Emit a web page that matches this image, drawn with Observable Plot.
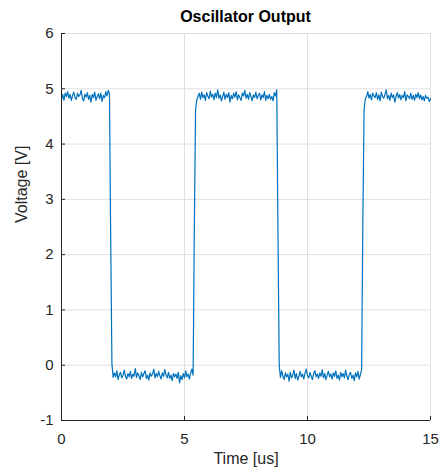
<!DOCTYPE html>
<html>
<head>
<meta charset="utf-8">
<script src="https://cdn.jsdelivr.net/npm/d3@7"></script>
<script src="https://cdn.jsdelivr.net/npm/@observablehq/plot@0.6"></script>
<style>
  html, body { margin: 0; padding: 0; background: #fff; }
  #title { width: 441px; height: 26px; box-sizing: border-box; padding-top: 9px; padding-left: 50px;
    text-align: center; font: bold 16px "Liberation Sans", Arial, sans-serif; line-height: 16px; color: #000; }
  #chart svg { display: block; }
</style>
</head>
<body>
<div id="title">Oscillator Output</div>
<div id="chart"></div>
<script>
const titleText = "Oscillator Output";
const xLabel = "Time [us]";
const yLabel = "Voltage [V]";
const xTicks = [0, 5, 10, 15];
const yTicks = [-1, 0, 1, 2, 3, 4, 5, 6];

// sample times (us)
const time = [
  0,0.05,0.1,0.15,0.2,0.25,0.3,0.35,0.4,0.45,0.5,0.55,0.6,0.65,0.7,0.75,0.8,0.85,0.9,0.95,
  1,1.05,1.1,1.15,1.2,1.25,1.3,1.35,1.4,1.45,1.5,1.55,1.6,1.65,1.7,1.75,1.8,1.85,1.9,1.95,
  2,2.05,2.1,2.15,2.2,2.25,2.3,2.35,2.4,2.45,2.5,2.55,2.6,2.65,2.7,2.75,2.8,2.85,2.9,2.95,
  3,3.05,3.1,3.15,3.2,3.25,3.3,3.35,3.4,3.45,3.5,3.55,3.6,3.65,3.7,3.75,3.8,3.85,3.9,3.95,
  4,4.05,4.1,4.15,4.2,4.25,4.3,4.35,4.4,4.45,4.5,4.55,4.6,4.65,4.7,4.75,4.8,4.85,4.9,4.95,
  5,5.05,5.1,5.15,5.2,5.25,5.3,5.35,5.4,5.45,5.5,5.55,5.6,5.65,5.7,5.75,5.8,5.85,5.9,5.95,
  6,6.05,6.1,6.15,6.2,6.25,6.3,6.35,6.4,6.45,6.5,6.55,6.6,6.65,6.7,6.75,6.8,6.85,6.9,6.95,
  7,7.05,7.1,7.15,7.2,7.25,7.3,7.35,7.4,7.45,7.5,7.55,7.6,7.65,7.7,7.75,7.8,7.85,7.9,7.95,
  8,8.05,8.1,8.15,8.2,8.25,8.3,8.35,8.4,8.45,8.5,8.55,8.6,8.65,8.7,8.75,8.8,8.85,8.9,8.95,
  9,9.05,9.1,9.15,9.2,9.25,9.3,9.35,9.4,9.45,9.5,9.55,9.6,9.65,9.7,9.75,9.8,9.85,9.9,9.95,
  10,10.05,10.1,10.15,10.2,10.25,10.3,10.35,10.4,10.45,10.5,10.55,10.6,10.65,10.7,10.75,10.8,10.85,10.9,10.95,
  11,11.05,11.1,11.15,11.2,11.25,11.3,11.35,11.4,11.45,11.5,11.55,11.6,11.65,11.7,11.75,11.8,11.85,11.9,11.95,
  12,12.05,12.1,12.15,12.2,12.25,12.3,12.35,12.4,12.45,12.5,12.55,12.6,12.65,12.7,12.75,12.8,12.85,12.9,12.95,
  13,13.05,13.1,13.15,13.2,13.25,13.3,13.35,13.4,13.45,13.5,13.55,13.6,13.65,13.7,13.75,13.8,13.85,13.9,13.95,
  14,14.05,14.1,14.15,14.2,14.25,14.3,14.35,14.4,14.45,14.5,14.55,14.6,14.65,14.7,14.75,14.8,14.85,14.9,14.95,
  15
];

// voltage readings (V)
const voltage = [
  // high 0 .. 1.95
  4.80,4.90,4.79,4.92,4.86,4.95,4.83,4.90,4.79,4.88,
  4.94,4.84,4.81,4.92,4.86,4.89,4.97,4.83,4.78,4.90,
  4.85,4.93,4.81,4.88,4.76,4.90,4.84,4.94,4.79,4.86,
  4.91,4.82,4.92,4.77,4.88,4.84,4.95,4.87,4.97,4.92,
  // falling edge
  2.3,0.02,-0.22,
  // low 2.15 .. 5.35
  -0.14,-0.21,-0.10,-0.26,-0.17,-0.13,-0.23,-0.18,-0.09,-0.20,
  -0.25,-0.15,-0.21,-0.11,-0.24,-0.16,-0.20,-0.06,-0.22,-0.14,
  -0.19,-0.26,-0.13,-0.21,-0.15,-0.10,-0.24,-0.18,-0.27,-0.14,
  -0.20,-0.16,-0.07,-0.23,-0.15,-0.21,-0.11,-0.19,-0.25,-0.14,
  -0.20,-0.08,-0.17,-0.23,-0.13,-0.24,-0.18,-0.28,-0.15,-0.21,
  -0.16,-0.24,-0.13,-0.32,-0.19,-0.26,-0.15,-0.23,-0.10,-0.21,
  -0.16,-0.25,-0.14,-0.07,-0.18,
  // rising edge
  2.5,4.62,4.80,
  // high 5.55 .. 8.75
  4.86,4.92,4.81,4.94,4.84,4.89,4.79,4.93,4.87,4.82,
  4.96,4.85,4.90,4.80,4.92,4.84,4.98,4.83,4.89,4.78,
  4.86,4.94,4.81,4.90,4.84,4.93,4.76,4.88,4.82,4.92,
  4.85,4.95,4.80,4.89,4.84,4.79,4.92,4.87,4.97,4.83,
  4.90,4.81,4.93,4.86,4.78,4.89,4.84,4.94,4.82,4.88,
  4.92,4.80,4.89,4.84,4.95,4.79,4.88,4.82,4.90,4.81,
  4.86,4.78,4.93,4.87,4.98,
  // falling edge
  2.4,0.0,-0.22,
  // low 8.95 .. 12.2
  -0.10,-0.20,-0.26,-0.14,-0.21,-0.16,-0.29,-0.13,-0.23,-0.18,
  -0.09,-0.24,-0.15,-0.27,-0.20,-0.11,-0.21,-0.16,-0.25,-0.14,
  -0.07,-0.19,-0.23,-0.13,-0.20,-0.26,-0.15,-0.10,-0.21,-0.16,
  -0.24,-0.14,-0.20,-0.08,-0.23,-0.15,-0.26,-0.18,-0.11,-0.21,
  -0.16,-0.25,-0.14,-0.20,-0.10,-0.24,-0.18,-0.27,-0.13,-0.21,
  -0.15,-0.23,-0.09,-0.20,-0.26,-0.16,-0.13,-0.24,-0.18,-0.28,
  -0.14,-0.21,-0.11,-0.25,-0.17,-0.08,
  // rising edge
  2.6,4.62,4.82,
  // high 12.4 .. 15
  4.86,4.95,4.83,4.90,4.80,4.92,4.87,4.84,4.93,4.81,
  4.89,4.78,4.94,4.86,4.83,4.90,4.98,4.82,4.88,4.79,
  4.92,4.84,4.89,4.76,4.86,4.93,4.83,4.90,4.80,4.88,
  4.84,4.95,4.78,4.89,4.86,4.82,4.92,4.81,4.88,4.79,
  4.90,4.84,4.93,4.82,4.89,4.80,4.86,4.78,4.88,4.83,
  4.85,4.77,4.82
];

const data = time.map((t, i) => ({t, v: voltage[i]}));

const W = 441, H = 449;
const mL = 61, mR = 11, mT = 7, mB = 55;
const innerW = W - mL - mR, innerH = H - mT - mB;
const axisColor = "#262626";
const gridColor = "#e0e0e0";
const font = '"Liberation Sans", Arial, sans-serif';

document.getElementById("title").textContent = titleText;

const chart = Plot.plot({
  width: W, height: H,
  marginLeft: mL, marginRight: mR, marginTop: mT, marginBottom: mB,
  style: {fontFamily: font, background: "#fff", overflow: "visible"},
  x: {domain: [0, 15], ticks: xTicks},
  y: {domain: [-1, 6], ticks: yTicks},
  marks: [
    Plot.gridX(xTicks, {stroke: gridColor, strokeOpacity: 1}),
    Plot.gridY(yTicks, {stroke: gridColor, strokeOpacity: 1}),
    Plot.line(data, {x: "t", y: "v", stroke: "#0072BD", strokeWidth: 1.2}),
    Plot.ruleX([0], {stroke: axisColor, strokeWidth: 1}),
    Plot.ruleY([-1], {stroke: axisColor, strokeWidth: 1}),
    Plot.tickX(xTicks, {x: d => d, stroke: axisColor, insetTop: innerH - 4}),
    Plot.tickY(yTicks, {y: d => d, stroke: axisColor, insetRight: innerW - 4}),
    Plot.axisX(xTicks, {tickSize: 0, tickPadding: 13, fontSize: 15, fill: axisColor, label: null, tickFormat: d => `${d}`}),
    Plot.axisY(yTicks, {tickSize: 0, tickPadding: 8, fontSize: 15, fill: axisColor, label: null, tickFormat: d => `${d}`}),
    Plot.text([xLabel], {text: d => d, frameAnchor: "bottom", dy: 43, fontSize: 16, fill: axisColor}),
    Plot.text([yLabel], {text: d => d, frameAnchor: "left", rotate: -90, dx: -40, dy: -4, fontSize: 16, fill: axisColor})
  ]
});
document.getElementById("chart").appendChild(chart);
</script>
</body>
</html>
